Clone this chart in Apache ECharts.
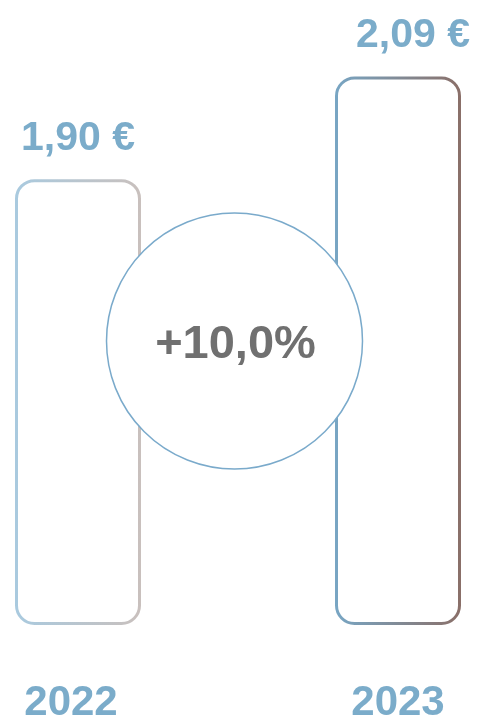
<!DOCTYPE html>
<html>
<head>
<meta charset="utf-8">
<script src="https://cdn.jsdelivr.net/npm/echarts@6/dist/echarts.min.js"></script>
<style>
  html, body { margin: 0; padding: 0; background: #fff; }
  #main { width: 479px; height: 718px; }
</style>
</head>
<body>
<div id="main"></div>
<script>
// data
const years = ['2022', '2023'];
const prices = [1.90, 2.09];
const priceLabels = ['1,90 €', '2,09 €'];
// the axis is cut, bars start at this value
const axisStart = 1.075;
const axisEnd = 2.2;
// stroke colours, left -> right of each bar
const strokeFrom = ['#a9cadf', '#78a6c4'];
const strokeTo = ['#c9c0bd', '#8a6f68'];
// small horizontal nudges of the value labels
const labelShift = [0, 15];

const blue = '#7bacca';
const font = 'Liberation Sans, Arial, sans-serif';
const change = (prices[1] / prices[0] - 1) * 100;
const changeText = (change >= 0 ? '+' : '') + change.toFixed(1).replace('.', ',') + '%';

const chart = echarts.init(document.getElementById('main'));

const option = {
  animation: false,
  grid: {
    left: 78,
    right: 81,
    top: 17,
    bottom: 93,
    outerBoundsMode: 'none'
  },
  xAxis: {
    type: 'category',
    data: years,
    boundaryGap: false,
    axisLine: { show: false },
    axisTick: { show: false },
    splitLine: { show: false },
    axisLabel: {
      margin: 57,
      formatter: (v, i) => (i === 0 ? '{l|' + v + '}' : '{r|' + v + '}'),
      rich: {
        l: { color: blue, fontSize: 42, fontWeight: 'bold', fontFamily: font, padding: [0, 14, 0, 0] },
        r: { color: blue, fontSize: 42, fontWeight: 'bold', fontFamily: font }
      }
    }
  },
  yAxis: {
    type: 'value',
    min: 0,
    max: axisEnd - axisStart,
    show: false
  },
  series: [{
    // hidden part below the cut
    type: 'bar',
    stack: 'p',
    clip: false,
    barWidth: 126,
    silent: true,
    itemStyle: { color: 'transparent' },
    data: prices.map(() => 0)
  }, {
    type: 'bar',
    stack: 'p',
    clip: false,
    barWidth: 126,
    data: prices.map((v, i) => ({
      value: v - axisStart,
      label: { offset: [labelShift[i], 0] },
      itemStyle: {
        color: '#fff',
        borderWidth: 3,
        borderRadius: 18,
        borderColor: new echarts.graphic.LinearGradient(0, 0, 1, 0, [
          { offset: 0, color: strokeFrom[i] },
          { offset: 1, color: strokeTo[i] }
        ])
      }
    })),
    label: {
      show: true,
      position: 'top',
      distance: 20,
      color: blue,
      fontSize: 41,
      fontWeight: 'bold',
      fontFamily: font,
      formatter: p => priceLabels[p.dataIndex]
    }
  }],
  graphic: [{
    type: 'circle',
    z: 100,
    shape: { cx: 234.5, cy: 341, r: 128 },
    style: { fill: '#fff', stroke: '#7aaacb', lineWidth: 1.5 }
  }, {
    type: 'text',
    z: 101,
    x: 235.5,
    y: 345,
    style: {
      text: changeText,
      fill: '#707070',
      fontSize: 47,
      fontWeight: 'bold',
      fontFamily: font,
      align: 'center',
      verticalAlign: 'middle'
    }
  }]
};

chart.setOption(option);
</script>
</body>
</html>
